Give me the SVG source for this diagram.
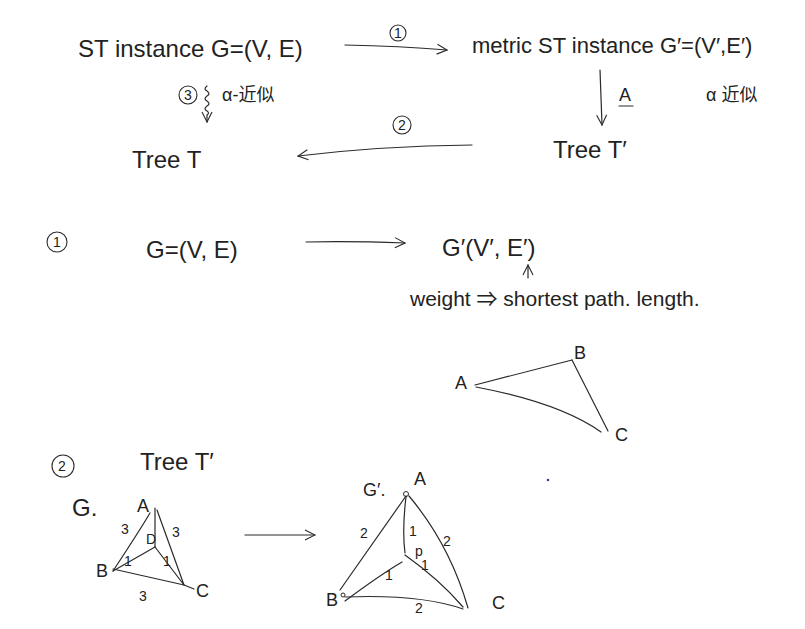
<svg xmlns="http://www.w3.org/2000/svg" width="805" height="629" viewBox="0 0 805 629">
<style>
text{font-family:"Liberation Sans","Noto Sans CJK SC",sans-serif;fill:#222;}
.t{font-size:24px;}
.s{font-size:18px;}
.xs{font-size:14px;}
.ln{fill:none;stroke:#2a2a2a;stroke-width:1.2;stroke-linecap:round;}
.c{fill:none;stroke:#2a2a2a;stroke-width:1.1;}
</style>
<defs>
<marker id="ah" viewBox="0 0 12 12" refX="11" refY="6" markerWidth="12" markerHeight="12" markerUnits="userSpaceOnUse" orient="auto">
<path d="M1,1 L11,6 L1,11" fill="none" stroke="#2a2a2a" stroke-width="1.1"/>
</marker>
</defs>
<rect width="805" height="629" fill="#fff"/>

<g id="top-st">
<text class="t" x="78" y="57">ST instance G=(V, E)</text>
</g>
<g id="top-metric">
<text class="t" x="472" y="53" style="font-size:22px">metric ST instance G′=(V′,E′)</text>
</g>
<g id="top-A">
<text class="s" x="619" y="101">A</text>
<line class="ln" x1="619" y1="106" x2="633" y2="106"/>
<text class="s" x="706" y="101">α 近似</text>
</g>
<g id="top-treeT2">
<text class="t" x="553" y="158">Tree T′</text>
</g>
<g id="top-treeT">
<text class="t" x="132" y="168">Tree T</text>
</g>
<g id="top-labels">
<circle class="c" cx="398" cy="33" r="8"/><text class="xs" x="394" y="38">1</text>
<circle class="c" cx="402" cy="125" r="9"/><text class="xs" x="398" y="130">2</text>
<circle class="c" cx="188" cy="95" r="9"/><text class="xs" x="184" y="100">3</text>
<text class="s" x="222" y="101">α-近似</text>
</g>

<g id="sec1">
<circle class="c" cx="57" cy="242" r="10"/><text class="xs" x="53" y="247">1</text>
<text class="t" x="146" y="258">G=(V, E)</text>
<text class="t" x="442" y="256">G′(V′, E′)</text>
<text class="s" x="410" y="306" style="font-size:21px">weight ⇒ shortest path. length.</text>
</g>

<g id="tri1">
<text class="s" x="455" y="389">A</text>
<text class="s" x="574" y="359">B</text>
<text class="s" x="615" y="441">C</text>
</g>

<g id="sec2">
<circle class="c" cx="63" cy="466" r="11"/><text class="xs" x="58" y="471">2</text>
<text class="t" x="140" y="470">Tree T′</text>
<text class="t" x="72" y="516">G.</text>
</g>

<g id="graphG">
<text class="s" x="137" y="512">A</text>
<text class="s" x="96" y="577">B</text>
<text class="s" x="196" y="597">C</text>
<text class="xs" x="146" y="544">D</text>
<text class="xs" x="121" y="534">3</text>
<text class="xs" x="172" y="537">3</text>
<text class="xs" x="124" y="566">1</text>
<text class="xs" x="163" y="566">1</text>
<text class="xs" x="139" y="601">3</text>
</g>

<g id="graphG2">
<text class="s" x="363" y="496">G′.</text>
<text class="s" x="414" y="485">A</text>
<text class="s" x="326" y="606">B</text>
<text class="s" x="492" y="609">C</text>
<text class="xs" x="415" y="556">p</text>
<text class="xs" x="360" y="538">2</text>
<text class="xs" x="409" y="536">1</text>
<text class="xs" x="443" y="546">2</text>
<text class="xs" x="385" y="580">1</text>
<text class="xs" x="421" y="570">1</text>
<text class="xs" x="415" y="613">2</text>
<circle cx="406" cy="494" r="2.5" fill="none" stroke="#2a2a2a"/>
<circle cx="343" cy="595" r="2" fill="none" stroke="#2a2a2a"/>
</g>

<g id="connectors">
<path class="ln" d="M345,45 Q400,46 447,50" marker-end="url(#ah)"/>
<path class="ln" d="M600,70 L602,125" marker-end="url(#ah)"/>
<path class="ln" d="M472,145 Q380,146 298,156" marker-end="url(#ah)"/>
<path class="ln" d="M207,86 q-4,3 0,5 q4,3 0,5 q-4,3 0,5 q4,3 0,5 q-4,3 0,5 q3,2 0,4 L207,122" marker-end="url(#ah)"/>
<path class="ln" d="M306,242 Q350,241 405,243" marker-end="url(#ah)"/>
<path class="ln" d="M528,278 L528,265" marker-end="url(#ah)"/>
<path class="ln" d="M475,385 L572,360"/>
<path class="ln" d="M572,360 L608,431"/>
<path class="ln" d="M476,387 Q560,403 601,432"/>
<path class="ln" d="M113,571 Q140,530 150,513"/>
<path class="ln" d="M155,508 L155,547"/>
<path class="ln" d="M157,510 Q172,552 184,585"/>
<path class="ln" d="M113,571 L155,547"/>
<path class="ln" d="M155,547 L184,585"/>
<path class="ln" d="M113,569 L184,585 L194,589"/>
<path class="ln" d="M245,535 L315,535" marker-end="url(#ah)"/>
<path class="ln" d="M406,496 L340,590"/>
<path class="ln" d="M406,497 Q402,530 405,553"/>
<path class="ln" d="M409,496 Q450,545 468,608"/>
<path class="ln" d="M345,601 Q380,575 402,562"/>
<path class="ln" d="M405,555 Q440,580 463,607"/>
<path class="ln" d="M345,597 Q420,594 463,609"/>
</g>
<circle cx="548" cy="480" r="1.3" fill="#3344aa"/>
</svg>
